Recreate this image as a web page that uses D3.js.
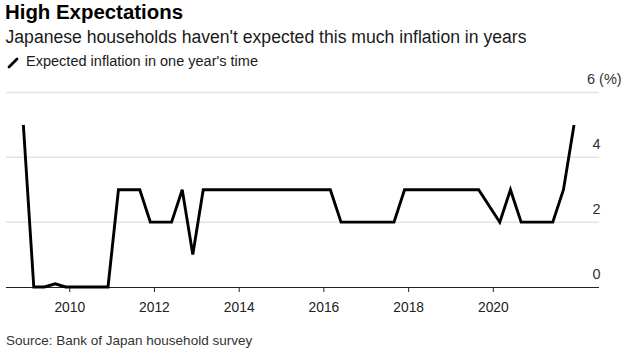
<!DOCTYPE html>
<html>
<head>
<meta charset="utf-8">
<script src="https://cdn.jsdelivr.net/npm/d3@7"></script>
<style>
  body { margin: 0; background: #fff; }
  svg { display: block; font-family: "Liberation Sans", Arial, sans-serif; }
</style>
</head>
<body>
<svg id="chart" width="634" height="363"></svg>
<script>
// quarterly survey dates (year, month) and expected inflation in one year's time (%)
const surveyDates = [
  [2008, 12],
  [2009, 3], [2009, 6], [2009, 9], [2009, 12],
  [2010, 3], [2010, 6], [2010, 9], [2010, 12],
  [2011, 3], [2011, 6], [2011, 9], [2011, 12],
  [2012, 3], [2012, 6], [2012, 9], [2012, 12],
  [2013, 3], [2013, 6], [2013, 9], [2013, 12],
  [2014, 3], [2014, 6], [2014, 9], [2014, 12],
  [2015, 3], [2015, 6], [2015, 9], [2015, 12],
  [2016, 3], [2016, 6], [2016, 9], [2016, 12],
  [2017, 3], [2017, 6], [2017, 9], [2017, 12],
  [2018, 3], [2018, 6], [2018, 9], [2018, 12],
  [2019, 3], [2019, 6], [2019, 9], [2019, 12],
  [2020, 3], [2020, 6], [2020, 9], [2020, 12],
  [2021, 3], [2021, 6], [2021, 9], [2021, 12]
];
const expectedInflation = [
  5,
  0, 0, 0.1, 0,
  0, 0, 0, 0,
  3, 3, 3, 2,
  2, 2, 3, 1,
  3, 3, 3, 3,
  3, 3, 3, 3,
  3, 3, 3, 3,
  3, 2, 2, 2,
  2, 2, 2, 3,
  3, 3, 3, 3,
  3, 3, 3, 2.5,
  2, 3, 2, 2,
  2, 2, 3, 5
];
const yTicks = [0, 2, 4, 6];
const xTickYears = [2010, 2012, 2014, 2016, 2018, 2020];

const title = "High Expectations";
const subtitle = "Japanese households haven't expected this much inflation in years";
const legendLabel = "Expected inflation in one year's time";
const source = "Source: Bank of Japan household survey";

const data = surveyDates.map((d, i) => ({ date: new Date(d[0], d[1] - 1, 1), value: expectedInflation[i] }));

const svg = d3.select('#chart');
const plot = { left: 6, right: 599, top: 92.5, bottom: 287 };

const x = d3.scaleTime()
  .domain([new Date(2008, 6, 1), new Date(2022, 6, 1)])
  .range([5.6, 598.6]);

const y = d3.scaleLinear()
  .domain([0, 6])
  .range([plot.bottom, plot.top]);

// header
svg.append('text')
  .attr('x', 5).attr('y', 19)
  .attr('font-size', 20).attr('font-weight', 'bold').attr('fill', '#000')
  .attr('textLength', 178).attr('lengthAdjust', 'spacingAndGlyphs')
  .text(title);

svg.append('text')
  .attr('x', 5.5).attr('y', 43)
  .attr('font-size', 18).attr('fill', '#1a1a1a')
  .attr('textLength', 521).attr('lengthAdjust', 'spacingAndGlyphs')
  .text(subtitle);

// legend
svg.append('line')
  .attr('x1', 9).attr('y1', 67).attr('x2', 17).attr('y2', 59)
  .attr('stroke', '#000').attr('stroke-width', 2.8).attr('stroke-linecap', 'round');

svg.append('text')
  .attr('x', 26).attr('y', 66)
  .attr('font-size', 14).attr('fill', '#1a1a1a')
  .attr('textLength', 232).attr('lengthAdjust', 'spacingAndGlyphs')
  .text(legendLabel);

// gridlines
svg.append('g')
  .selectAll('line')
  .data(yTicks.filter(t => t > 0))
  .join('line')
  .attr('x1', plot.left).attr('x2', plot.right)
  .attr('y1', d => y(d)).attr('y2', d => y(d))
  .attr('stroke', '#e3e3e3').attr('stroke-width', 1.5);

// y labels on the right, sitting above each gridline
svg.append('g')
  .selectAll('text')
  .data(yTicks)
  .join('text')
  .attr('x', d => d === 6 ? 587 : 592.5)
  .attr('y', d => y(d) - 8.5)
  .attr('font-size', 14.5).attr('fill', '#333')
  .text(d => d === 6 ? '6 (%)' : d);

// x axis
const xAxis = svg.append('g')
  .attr('transform', `translate(0,${plot.bottom})`)
  .call(d3.axisBottom(x)
    .tickValues(xTickYears.map(yr => new Date(yr, 0, 1)))
    .tickFormat(d3.timeFormat('%Y'))
    .tickSize(5)
    .tickPadding(10));

xAxis.select('.domain')
  .attr('d', `M${plot.left},0.5H${plot.right}`)
  .attr('stroke', '#222');
xAxis.selectAll('.tick line').attr('stroke', '#222');
xAxis.selectAll('.tick text')
  .attr('font-size', 13.8)
  .attr('font-family', '"Liberation Sans", Arial, sans-serif')
  .attr('fill', '#222');

// series line
const line = d3.line()
  .x(d => x(d.date))
  .y(d => y(d.value));

svg.append('path')
  .datum(data)
  .attr('d', line)
  .attr('fill', 'none')
  .attr('stroke', '#000')
  .attr('stroke-width', 2.9)
  .attr('stroke-linejoin', 'miter');

// source
svg.append('text')
  .attr('x', 6).attr('y', 345)
  .attr('font-size', 13.5).attr('fill', '#333')
  .text(source);
</script>
</body>
</html>
